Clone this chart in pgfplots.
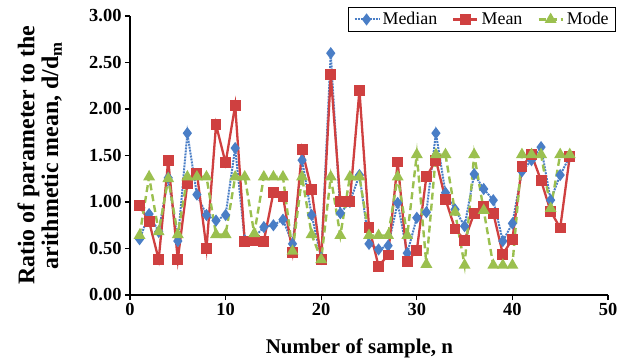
\documentclass[border=0pt]{standalone}
\usepackage{fontspec}
\setmainfont{Liberation Serif}
\usepackage{pgfplots}
\pgfplotsset{compat=1.18}
\usepackage{pgfplotstable}
\definecolor{cmed}{HTML}{4A7EC6}
\definecolor{cmean}{HTML}{CF4040}
\definecolor{cmode}{HTML}{9BC04F}
\pgfplotstableread{
n med mean mode
1 0.60 0.96 0.64
2 0.87 0.79 1.27
3 0.68 0.38 0.68
4 1.26 1.45 1.25
5 0.58 0.38 0.65
6 1.74 1.20 1.27
7 1.08 1.31 1.27
8 0.86 0.50 1.27
9 0.80 1.83 0.65
10 0.86 1.42 0.65
11 1.58 2.04 1.27
12 0.59 0.58 1.27
13 0.62 0.59 0.66
14 0.73 0.58 1.27
15 0.75 1.10 1.27
16 0.81 1.06 1.27
17 0.55 0.46 0.47
18 1.45 1.56 1.27
19 0.86 1.13 0.65
20 0.40 0.38 0.38
21 2.60 2.37 1.27
22 0.88 1.01 0.64
23 1.00 1.01 1.27
24 1.29 2.20 1.27
25 0.55 0.73 0.64
26 0.49 0.31 0.64
27 0.53 0.43 0.64
28 0.99 1.43 1.27
29 0.45 0.36 0.64
30 0.83 0.48 1.51
31 0.89 1.27 0.33
32 1.74 1.45 1.51
33 1.10 1.03 1.51
34 0.92 0.71 0.89
35 0.74 0.59 0.32
36 1.30 0.88 1.51
37 1.14 0.95 0.91
38 1.02 0.88 0.32
39 0.58 0.44 0.32
40 0.77 0.60 0.32
41 1.33 1.38 1.51
42 1.45 1.51 1.51
43 1.59 1.23 1.51
44 1.02 0.90 0.93
45 1.29 0.72 1.51
46 1.49 1.49 1.51
}\data
\begin{document}
\begin{tikzpicture}
\begin{axis}[name=ax,
  scale only axis, width=478bp, height=279bp,
  xmin=0, xmax=50, ymin=0, ymax=3,
  xtick={0,10,...,50}, ytick={0,0.5,...,3},
  axis lines=left,
  axis line style={-, black, line width=1.4bp},
  tick align=outside, major tick length=5bp,
  tick style={black, line width=1.1bp},
  /pgf/number format/assume math mode=true,
  yticklabel style={/pgf/number format/.cd, fixed, fixed zerofill, precision=2},
  ticklabel style={font=\bfseries\fontsize{18.5}{19}\selectfont},
  xlabel={Number of sample, n},
  ylabel={Ratio of parameter to the\\arithmetic mean, d/d\textsubscript{m}},
  xlabel style={font=\bfseries\fontsize{21}{22}\selectfont, at={(axis description cs:0.48,0)}, anchor=north, yshift=-40bp},
  ylabel style={font=\bfseries\fontsize{24}{24}\selectfont, align=center, at={(axis description cs:-0.135,0.5)}, anchor=south},
  legend style={at={(1.017,1.032)}, anchor=north east, legend columns=3,
    draw=black, line width=0.9bp, font=\fontsize{18}{18}\selectfont,
    inner ysep=3bp, inner xsep=5bp,
    /tikz/every even column/.append style={column sep=13bp},
    /tikz/every odd column/.append style={column sep=1bp}},
  legend image code/.code={\draw[mark repeat=2,mark phase=2] plot coordinates {(0bp,0bp) (12bp,0bp) (24bp,0bp)};},
  legend cell align=left,
]
\addplot[cmed, line width=2bp, densely dotted, mark=diamond*, mark size=4.5bp, mark options={solid}] table[x=n, y=med] {\data};
\addlegendentry{Median}
\addplot[cmean, line width=2.3bp, mark=square*, mark size=4.3bp, mark options={solid}] table[x=n, y=mean] {\data};
\addlegendentry{Mean}
\addplot[cmode, line width=2.4bp, dash pattern=on 7bp off 4bp, mark=triangle*, mark size=4.5bp, mark options={solid}] table[x=n, y=mode] {\data};
\addlegendentry{Mode}
\end{axis}
\pgfresetboundingbox
\path ([shift={(-130bp,-68bp)}]ax.south west) rectangle ([shift={(23bp,16bp)}]ax.north east);
\end{tikzpicture}
\end{document}
